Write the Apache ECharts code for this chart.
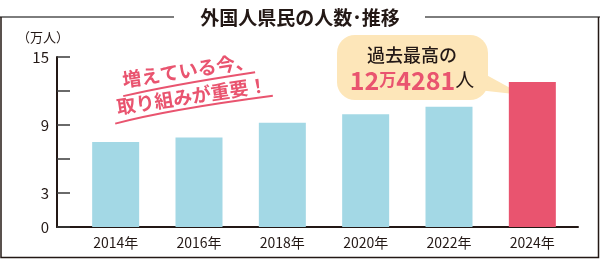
<!DOCTYPE html>
<html><head><meta charset="utf-8">
<script src="https://cdn.jsdelivr.net/npm/echarts@6/dist/echarts.min.js"></script>
<style>html,body{margin:0;padding:0;background:#fff}#c{width:600px;height:259px}</style>
</head><body><div id="c"></div>
<script>
const categories = ['2014年','2016年','2018年','2020年','2022年','2024年'];
const values = [7.5, 7.9, 9.2, 9.95, 10.6, 12.8];
const yTicks = [0, 3, 9, 15];
const FONT = '"Noto Sans CJK JP","Noto Sans",sans-serif';
const blue = '#a3d8e5', pink = '#e9546f';

const chart = echarts.init(document.getElementById('c'), null, {renderer:'canvas'});
chart.setOption({
  animation:false,
  textStyle:{fontFamily:FONT},
  grid:[
    {left:57, right:22, top:57, bottom:32},
    {left:74, right:26, top:57, bottom:32}
  ],
  xAxis:[
    {gridIndex:0, type:'category', data:categories, axisLine:{lineStyle:{color:'#231815', width:2}},
     axisTick:{show:false}, axisLabel:{show:false}},
    {gridIndex:1, type:'category', data:categories, axisLine:{show:false}, axisTick:{show:false},
     axisLabel:{color:'#231815', fontSize:14, margin:9, fontFamily:FONT}}
  ],
  yAxis:[
    {gridIndex:0, type:'value', min:0, max:15, interval:3,
     axisLine:{show:true, lineStyle:{color:'#231815', width:2}},
     axisTick:{show:true, inside:true, length:13, lineStyle:{color:'#3a3a3a', width:1.5}},
     splitLine:{show:false},
     axisLabel:{color:'#231815', fontSize:15, margin:8, fontFamily:FONT,
       formatter:v => yTicks.includes(v) ? String(v) : ''}},
    {gridIndex:1, type:'value', min:0, max:15, interval:3, show:false}
  ],
  series:[{
    type:'bar', xAxisIndex:1, yAxisIndex:1, barWidth:47,
    data: values.map((v,i)=>({value:v, itemStyle:{color: i===values.length-1 ? pink : blue}}))
  }],
  graphic:[
    {type:'line', shape:{x1:0,y1:17,x2:174,y2:17}, style:{stroke:'#7d7d7d', lineWidth:2}},
    {type:'line', shape:{x1:425,y1:17,x2:600,y2:17}, style:{stroke:'#7d7d7d', lineWidth:2}},
    {type:'polyline', shape:{points:[[1,17],[1,257.5],[598.5,257.5],[598.5,17]]}, style:{stroke:'#231815', lineWidth:1.5, fill:null}},
    {type:'text', x:300, y:18, style:{text:'外国人県民の人数･推移', fontSize:19, fontWeight:'bold', fill:'#231815', fontFamily:FONT, align:'center', verticalAlign:'middle'}},
    {type:'text', x:17, y:37, style:{text:'（万人）', fontSize:13, fill:'#231815', fontFamily:FONT, align:'left', verticalAlign:'middle'}},
    {type:'group', x:190, y:83, rotation:0.15, children:[
      {type:'text', x:0, y:-13, style:{text:'増えている今、', fontSize:19, fontWeight:'bold', fill:pink, fontFamily:FONT, align:'center', verticalAlign:'middle'}},
      {type:'text', x:0, y:13, style:{text:'取り組みが重要！', fontSize:19, fontWeight:'bold', fill:pink, fontFamily:FONT, align:'center', verticalAlign:'middle'}},
      {type:'bezierCurve', shape:{x1:-68,y1:3,x2:66,y2:-1,cpx1:-20,cpy1:-1}, style:{stroke:pink, lineWidth:2, fill:null}},
      {type:'bezierCurve', shape:{x1:-80,y1:29,x2:80,y2:25,cpx1:-25,cpy1:23}, style:{stroke:pink, lineWidth:2, fill:null}}
    ]},
    {type:'polygon', shape:{points:[[470,66],[523,95],[478,90]]}, style:{fill:'#fde6b9'}},
    {type:'rect', shape:{x:337, y:35, width:151, height:65, r:18}, style:{fill:'#fde6b9'}},
    {type:'text', x:412, y:55, style:{text:'過去最高の', fontSize:18, fontWeight:'500', fill:'#231815', fontFamily:FONT, align:'center', verticalAlign:'middle'}},
    {type:'text', x:412, y:80, style:{
      text:'{a|12}{b|万}{a|4281}{c|人}', align:'center', verticalAlign:'middle',
      rich:{
        a:{fontSize:25, fontWeight:'bold', fill:pink, fontFamily:FONT},
        b:{fontSize:17, fontWeight:'bold', fill:pink, fontFamily:FONT},
        c:{fontSize:19, fill:'#231815', fontFamily:FONT}
      }}}
  ]
});
</script></body></html>
